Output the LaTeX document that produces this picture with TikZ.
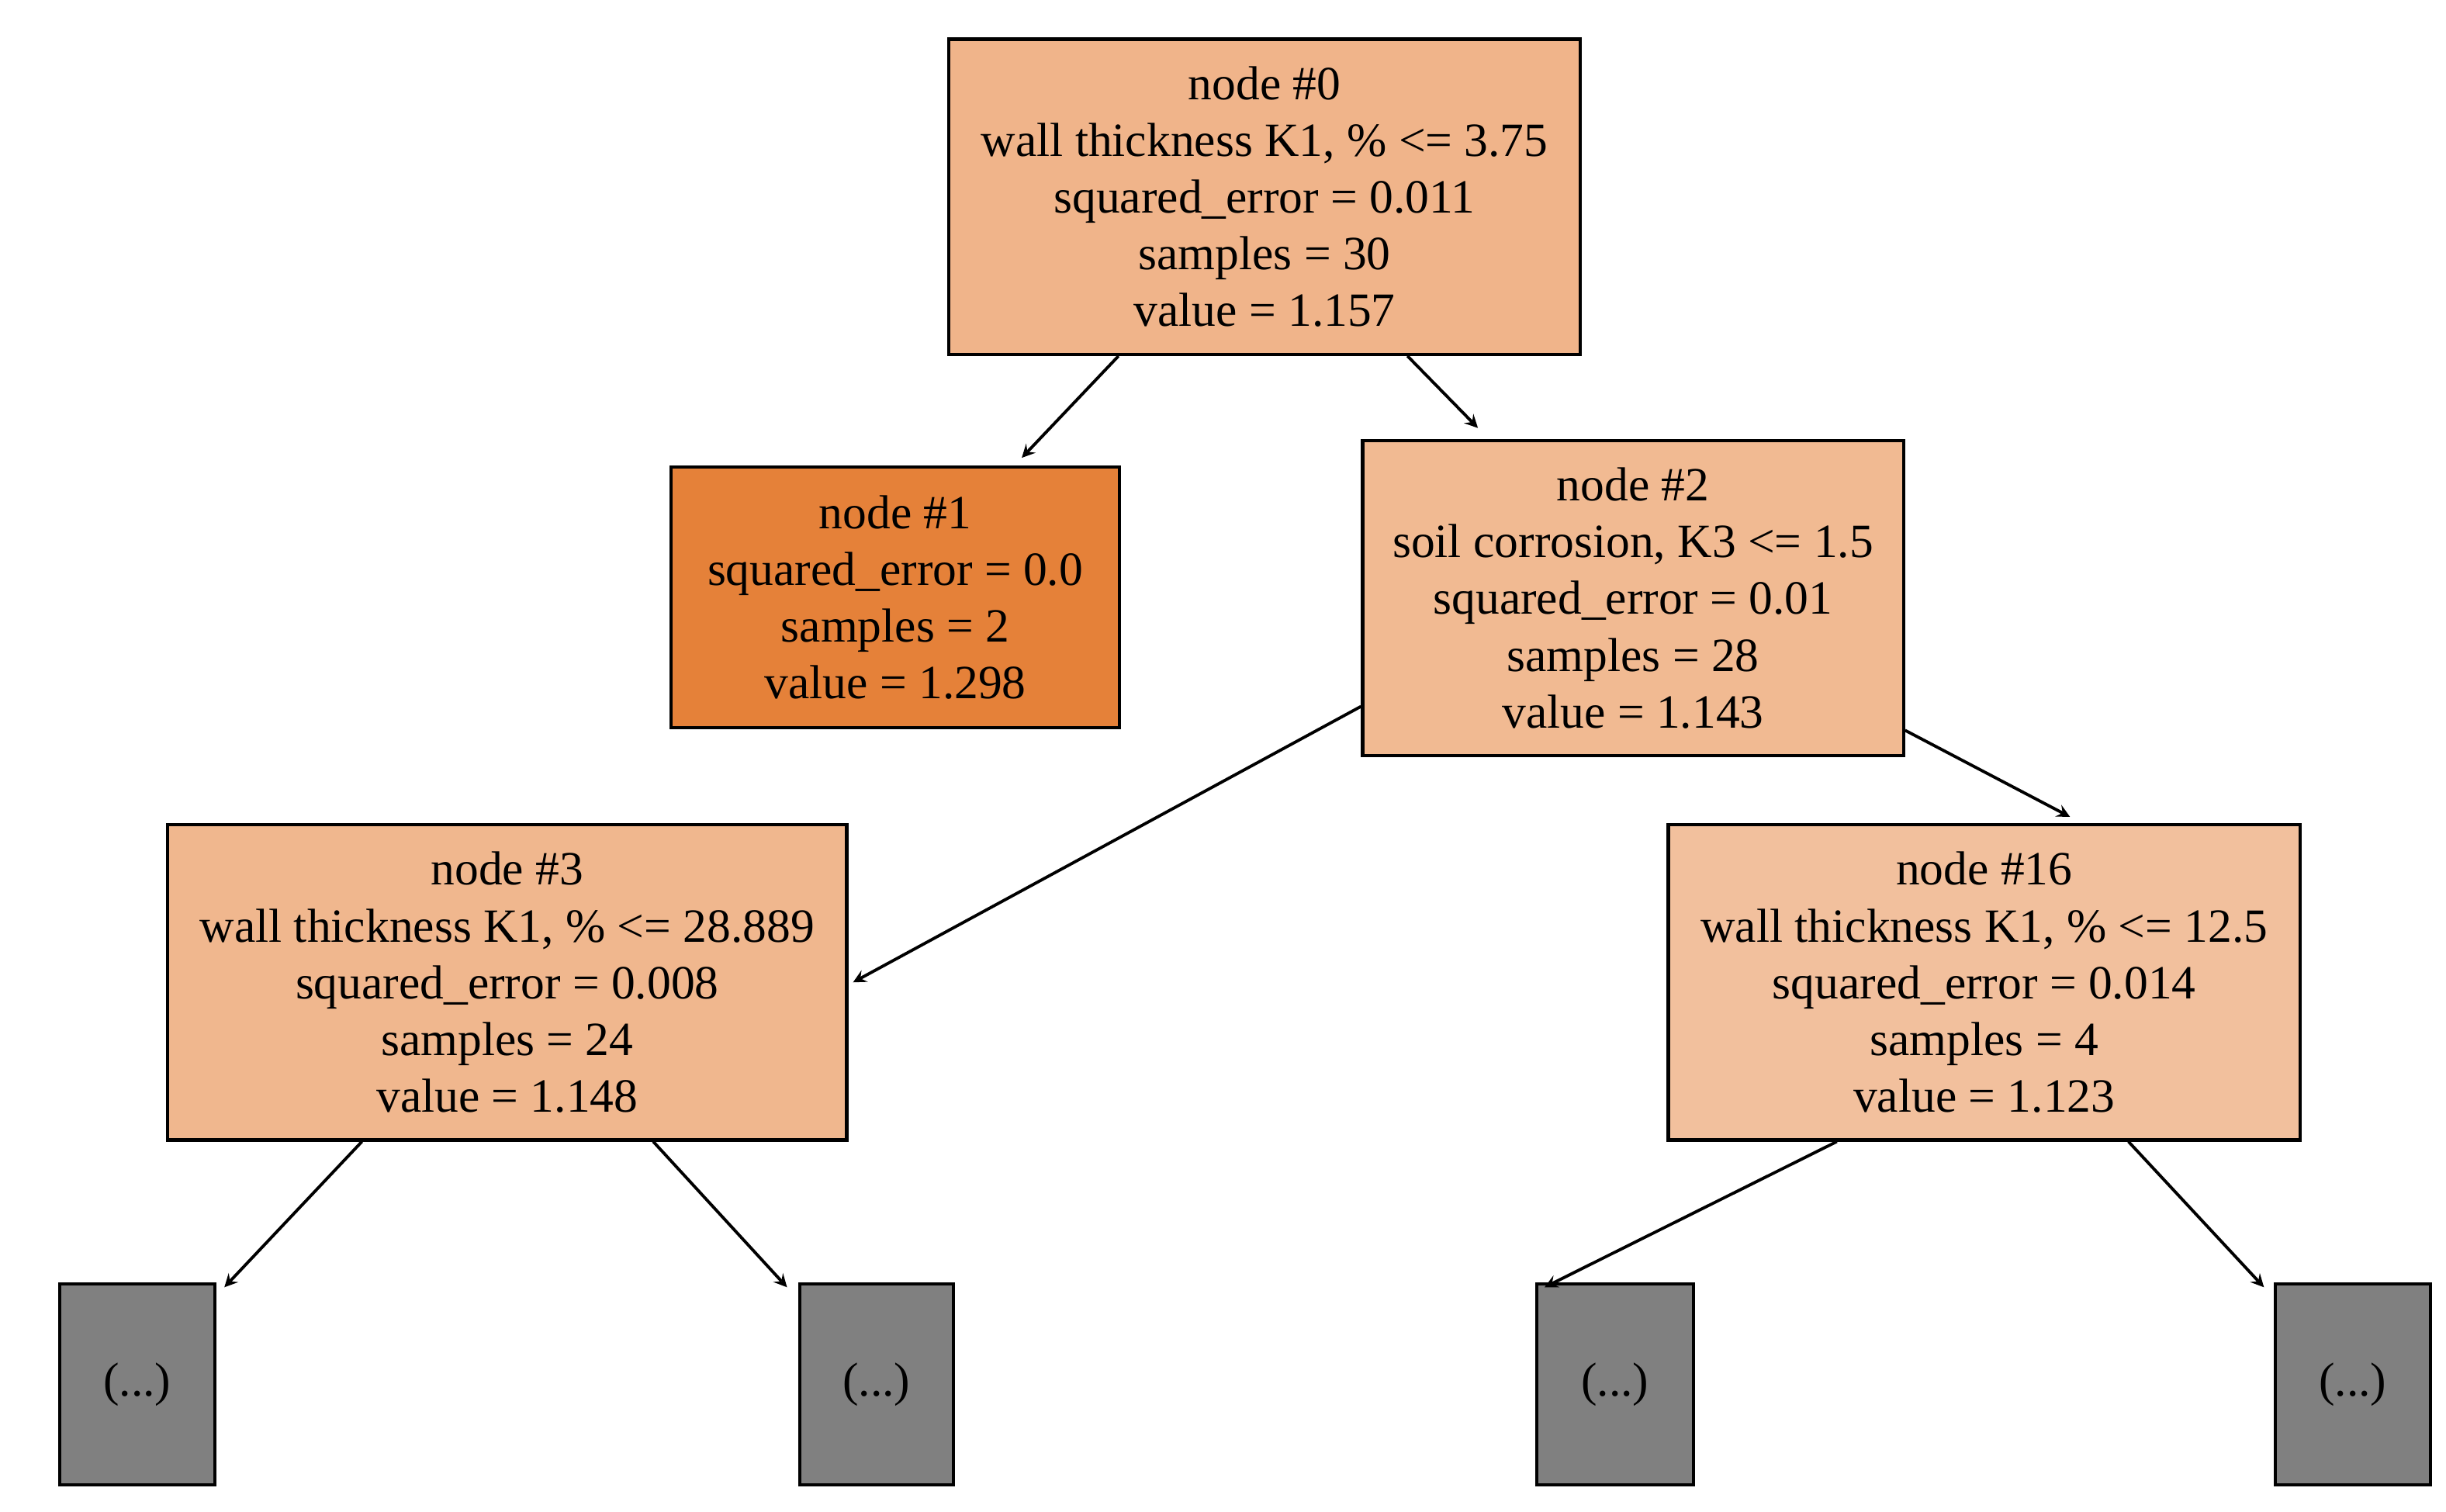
\documentclass[tikz,border=0pt]{standalone}
\usepackage{fontspec}
\setmainfont{Liberation Serif}
\usetikzlibrary{calc}
\begin{document}
\begin{tikzpicture}[x=0.02021cm,y=-0.02021cm,
  box/.style={draw=black,line width=1.2pt,rectangle,align=center,inner sep=0pt,
    font=\fontsize{17.5}{20.8}\selectfont},
  arr/.style={->,>=stealth,line width=1.1pt}]
\useasboundingbox (0,0) rectangle (1560,964);
\definecolor{c0}{HTML}{F0B48A}
\definecolor{c1}{HTML}{E58139}
\definecolor{c2}{HTML}{F1BA92}
\definecolor{c3}{HTML}{F0B78E}
\definecolor{c16}{HTML}{F2C09D}
\definecolor{gr}{HTML}{808080}
\newcommand{\bx}[8]{\node[box,fill=#6,minimum width=#3*0.02021cm,minimum height=#4*0.02021cm] (#5) at (#1,#2) {#7};}
\bx{806.5}{125.5}{403}{201}{n0}{c0}{node \#0\\wall thickness K1, \% <= 3.75\\squared\_error = 0.011\\samples = 30\\value = 1.157}{}
\bx{571}{381}{286}{166}{n1}{c1}{node \#1\\squared\_error = 0.0\\samples = 2\\value = 1.298}{}
\bx{1041.5}{381.5}{345}{201}{n2}{c2}{node \#2\\soil corrosion, K3 <= 1.5\\squared\_error = 0.01\\samples = 28\\value = 1.143}{}
\bx{323.5}{626.5}{433}{201}{n3}{c3}{node \#3\\wall thickness K1, \% <= 28.889\\squared\_error = 0.008\\samples = 24\\value = 1.148}{}
\bx{1265.5}{626.5}{403}{201}{n16}{c16}{node \#16\\wall thickness K1, \% <= 12.5\\squared\_error = 0.014\\samples = 4\\value = 1.123}{}
\bx{87.5}{883}{99}{128}{g1}{gr}{(...)}{}
\bx{559}{883}{98}{128}{g2}{gr}{(...)}{}
\bx{1030}{883}{100}{128}{g3}{gr}{(...)}{}
\bx{1500.5}{883}{99}{128}{g4}{gr}{(...)}{}
\draw[arr] ($(n0.south west)!0.27!(n0.south east)$) -- ($(n1.north west)!0.78!(n1.north east)+(0,-5)$);
\draw[arr] ($(n0.south west)!0.725!(n0.south east)$) -- ($(n2.north west)!0.215!(n2.north east)+(0,-7)$);
\draw[arr] ($(n2.north west)!0.84!(n2.south west)$) -- ($(n3.north east)!0.5!(n3.south east)+(3,0)$);
\draw[arr] ($(n2.north east)!0.915!(n2.south east)$) -- ($(n16.north west)!0.635!(n16.north east)+(0,-4)$);
\draw[arr] ($(n3.south west)!0.287!(n3.south east)$) -- ($(g1.north west)!1.05!(g1.north east)+(0,3)$);
\draw[arr] ($(n3.south west)!0.714!(n3.south east)$) -- ($(g2.north west)!-0.07!(g2.north east)+(0,3)$);
\draw[arr] ($(n16.south west)!0.268!(n16.south east)$) -- ($(g3.north west)!0.06!(g3.north east)+(0,3)$);
\draw[arr] ($(n16.south west)!0.727!(n16.south east)$) -- ($(g4.north west)!-0.06!(g4.north east)+(0,3)$);
\end{tikzpicture}
\end{document}
